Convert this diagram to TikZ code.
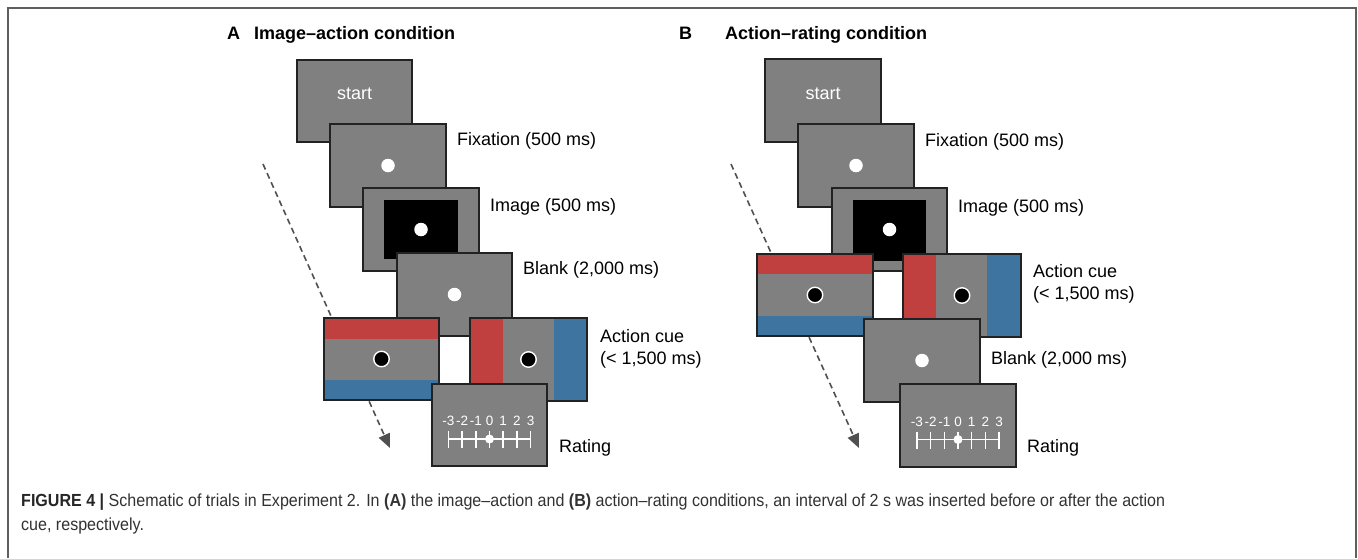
\documentclass[tikz,border=0pt]{standalone}
\usepackage{fontspec}
\setmainfont{Liberation Sans}
\usepackage{graphicx}
\usetikzlibrary{calc,arrows.meta}
\definecolor{scrgray}{RGB}{128,128,128}
\definecolor{cuered}{RGB}{192,64,64}
\definecolor{cueblue}{RGB}{62,117,160}
\definecolor{bordc}{RGB}{34,34,34}
\definecolor{framec}{RGB}{95,95,95}
\definecolor{arrc}{RGB}{80,80,80}
\definecolor{captc}{RGB}{50,50,50}
\newsavebox\capA
\newsavebox\capB
\newlength\capw
\newcommand\capfont{\fontsize{17.5}{20}\selectfont}
\begin{document}
\sbox\capA{\capfont\color{captc}{\bfseries\color{black!85}FIGURE 4 |} Schematic of trials in Experiment 2. In \textbf{(A)} the image–action and \textbf{(B)} action–rating conditions, an interval of 2 s was inserted before or after the action}%
\sbox\capB{\capfont\color{captc}cue, respectively.}%
\setlength\capw{\wd\capA}%
\pgfmathsetmacro\capsx{1144/\capw}%
\begin{tikzpicture}[x=1pt,y=-1pt,
  screen/.style={draw=bordc,line width=1.3pt,fill=scrgray,inner sep=0pt,outer sep=0pt},
  bord/.style={draw=bordc,line width=1.3pt},
  stxt/.style={text=white,inner sep=0pt,font=\fontsize{18}{20}\selectfont},
  wdot/.style={circle,fill=white,inner sep=0pt,minimum size=13.5pt},
  bdot/.style={circle,fill=black,draw=white,line width=1.4pt,inner sep=0pt,minimum size=15.5pt},
  lbl/.style={anchor=base west,inner sep=0pt,font=\fontsize{18}{22}\selectfont,align=left},
  ttl/.style={anchor=base west,inner sep=0pt,font=\bfseries\fontsize{18}{22}\selectfont},
  tlab/.style={text=white,inner sep=0pt,font=\fontsize{13.5}{14}\selectfont},
  tick/.style={draw=white,line width=1.6pt},
  trial/.style={draw=arrc,line width=1.6pt,dash pattern=on 6pt off 4pt,
     -{Triangle[length=14pt,width=12pt]}}
]
\useasboundingbox (0,0) rectangle (1358,558);
% frame
\draw[framec,line width=1.8pt] (8,558) -- (8,8) -- (1356,8) -- (1356,558);

% ================= Panel A =================
\node[ttl] (aA) at (227,39) {A};
\node[ttl] (aT) at (254,39) {Image–action condition};

\coordinate (aArS) at (263,164);
\coordinate (aArE) at (390,448);
\draw[trial] (aArS) -- (aArE);

\node[screen,minimum width=115pt,minimum height=82pt] (aStart) at (354.5,101) {};
\node[stxt] (aStartT) at ($(aStart.center)+(0,-7)$) {start};
\node[screen,minimum width=116pt,minimum height=83pt] (aFix) at (388,165.5) {};
\node[wdot] (aFixD) at (aFix.center) {};
\node[screen,minimum width=116pt,minimum height=83pt] (aImg) at (421,229.5) {};
\node[fill=black,inner sep=0pt,minimum width=74pt,minimum height=59pt] (aImgB) at (aImg.center) {};
\node[wdot] (aImgD) at (aImg.center) {};
\node[screen,minimum width=115pt,minimum height=83pt] (aBlank) at (454.5,294.5) {};
\node[wdot] (aBlankD) at (aBlank.center) {};
% horizontal cue
\node[screen,minimum width=115pt,minimum height=82pt] (aCueH) at (381.5,359) {};
\fill[cuered] (aCueH.north west) rectangle ($(aCueH.north east)+(0,21)$);
\fill[cueblue] ($(aCueH.south west)+(0,-20)$) rectangle (aCueH.south east);
\draw[bord] (aCueH.north west) rectangle (aCueH.south east);
\node[bdot] (aCueHD) at (aCueH.center) {};
% vertical cue
\node[screen,minimum width=117pt,minimum height=83pt] (aCueV) at (528.5,359.5) {};
\fill[cuered] (aCueV.north west) rectangle ($(aCueV.south west)+(33,0)$);
\fill[cueblue] ($(aCueV.north east)+(-33,0)$) rectangle (aCueV.south east);
\draw[bord] (aCueV.north west) rectangle (aCueV.south east);
\node[bdot] (aCueVD) at (aCueV.center) {};
% rating
\node[screen,minimum width=115pt,minimum height=82pt] (aRate) at (489.5,425) {};
\draw[tick] ($(aRate.center)+(-41,14)$) -- ($(aRate.center)+(41,14)$);
\foreach \i/\t in {-3/-3,-2/-2,-1/-1,0/0,1/1,2/2,3/3}{
  \draw[tick] ($(aRate.center)+(\i*13.67,6)$) -- ($(aRate.center)+(\i*13.67,23)$);
  \node[tlab] at ($(aRate.center)+(\i*13.67,-4)$) {\t};
}
\node[circle,fill=white,inner sep=0pt,minimum size=9pt] (aRateD) at ($(aRate.center)+(0,14)$) {};

\node[lbl] (aLFix) at (457,145) {Fixation (500 ms)};
\node[lbl] (aLImg) at (490,211) {Image (500 ms)};
\node[lbl] (aLBlank) at (523,274) {Blank (2,000 ms)};
\node[lbl] (aLCue1) at (600,342) {Action cue};
\node[lbl] (aLCue2) at (600,364) {(< 1,500 ms)};
\node[lbl] (aLRate) at (559,452) {Rating};

% ================= Panel B =================
\node[ttl] (bB) at (679,39) {B};
\node[ttl] (bT) at (725,39) {Action–rating condition};

\coordinate (bArS) at (731,164);
\coordinate (bArE) at (859,448);
\draw[trial] (bArS) -- (bArE);

\node[screen,minimum width=116pt,minimum height=83pt] (bStart) at (823,100.5) {};
\node[stxt] (bStartT) at ($(bStart.center)+(0,-7)$) {start};
\node[screen,minimum width=116pt,minimum height=83pt] (bFix) at (856,165.5) {};
\node[wdot] (bFixD) at (bFix.center) {};
\node[screen,minimum width=115pt,minimum height=83pt] (bImg) at (889.5,229.5) {};
\node[fill=black,inner sep=0pt,minimum width=73pt,minimum height=61pt] (bImgB) at (889.5,230.5) {};
\node[wdot] (bImgD) at (bImg.center) {};
% horizontal cue
\node[screen,minimum width=116pt,minimum height=82pt] (bCueH) at (815,295) {};
\fill[cuered] (bCueH.north west) rectangle ($(bCueH.north east)+(0,20)$);
\fill[cueblue] ($(bCueH.south west)+(0,-20)$) rectangle (bCueH.south east);
\draw[bord] (bCueH.north west) rectangle (bCueH.south east);
\node[bdot] (bCueHD) at (bCueH.center) {};
% vertical cue
\node[screen,minimum width=118pt,minimum height=83pt] (bCueV) at (962,295.5) {};
\fill[cuered] (bCueV.north west) rectangle ($(bCueV.south west)+(33,0)$);
\fill[cueblue] ($(bCueV.north east)+(-34,0)$) rectangle (bCueV.south east);
\draw[bord] (bCueV.north west) rectangle (bCueV.south east);
\node[bdot] (bCueVD) at (bCueV.center) {};
% blank
\node[screen,minimum width=116pt,minimum height=83pt] (bBlank) at (922,360.5) {};
\node[wdot] (bBlankD) at (bBlank.center) {};
% rating
\node[screen,minimum width=116pt,minimum height=83pt] (bRate) at (958,425.5) {};
\draw[tick] ($(bRate.center)+(-41,14)$) -- ($(bRate.center)+(41,14)$);
\foreach \i/\t in {-3/-3,-2/-2,-1/-1,0/0,1/1,2/2,3/3}{
  \draw[tick] ($(bRate.center)+(\i*13.67,6)$) -- ($(bRate.center)+(\i*13.67,23)$);
  \node[tlab] at ($(bRate.center)+(\i*13.67,-4)$) {\t};
}
\node[circle,fill=white,inner sep=0pt,minimum size=9pt] (bRateD) at ($(bRate.center)+(0,14)$) {};

\node[lbl] (bLFix) at (925,146) {Fixation (500 ms)};
\node[lbl] (bLImg) at (958,212) {Image (500 ms)};
\node[lbl] (bLCue1) at (1033,277) {Action cue};
\node[lbl] (bLCue2) at (1033,299) {(< 1,500 ms)};
\node[lbl] (bLBlank) at (991,364) {Blank (2,000 ms)};
\node[lbl] (bLRate) at (1027,452) {Rating};

% ================= Caption =================
\node[anchor=base west,inner sep=0pt] (cap1) at (21,506.5) {\scalebox{\capsx}[1]{\usebox\capA}};
\node[anchor=base west,inner sep=0pt] (cap2) at (21,530) {\scalebox{\capsx}[1]{\usebox\capB}};
\end{tikzpicture}
\end{document}
